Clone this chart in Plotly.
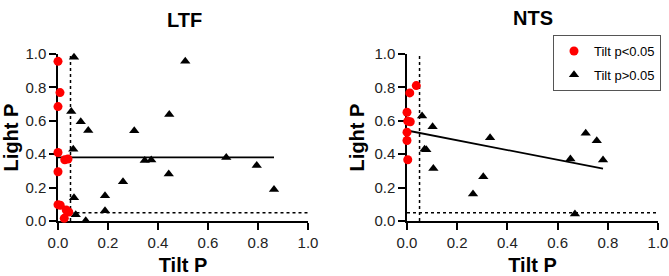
import plotly.graph_objects as go

# ---- data ----
ltf_sig_x = [0.0, 0.008, 0.0, 0.0, 0.027, 0.04, 0.0, 0.0, 0.009, 0.033, 0.043, 0.025]
ltf_sig_y = [0.956, 0.769, 0.685, 0.41, 0.367, 0.371, 0.295, 0.098, 0.094, 0.066, 0.054, 0.016]
ltf_ns_x = [0.064, 0.053, 0.091, 0.121, 0.061, 0.064, 0.071, 0.111, 0.188, 0.188, 0.26,
            0.305, 0.347, 0.373, 0.509, 0.445, 0.443, 0.673, 0.795, 0.864]
ltf_ns_y = [0.98, 0.655, 0.594, 0.542, 0.43, 0.139, 0.038, 0.002, 0.151, 0.062, 0.235,
            0.54, 0.363, 0.365, 0.956, 0.637, 0.281, 0.38, 0.333, 0.189]
ltf_fit_x = [0.0, 0.864]
ltf_fit_y = [0.381, 0.381]

nts_sig_x = [0.037, 0.011, 0.0, 0.003, 0.013, 0.0, 0.0, 0.003]
nts_sig_y = [0.811, 0.767, 0.651, 0.598, 0.594, 0.532, 0.482, 0.367]
nts_ns_x = [0.06, 0.07, 0.077, 0.102, 0.105, 0.263, 0.304, 0.331, 0.651, 0.669, 0.712, 0.756, 0.781]
nts_ns_y = [0.628, 0.43, 0.426, 0.564, 0.315, 0.161, 0.265, 0.498, 0.371, 0.042, 0.526, 0.48, 0.365]
nts_fit_x = [0.0, 0.781]
nts_fit_y = [0.542, 0.313]

threshold = 0.05
ltf_hline_x = [threshold, 1.0]
nts_hline_x = [0.0, 1.0]
vline_y = [0.0, 1.0]

ticks = [0.0, 0.2, 0.4, 0.6, 0.8, 1.0]
tick_text = ["0.0", "0.2", "0.4", "0.6", "0.8", "1.0"]

RED = "#ff0000"
BLACK = "#000000"
FONT = "Liberation Sans, Arial"

fig = go.Figure()


def add_panel(xa, ya, sx, sy, nx, ny, fx, fy, hx, show_legend):
    fig.add_trace(go.Scatter(x=[threshold, threshold], y=vline_y, mode="lines",
                             line=dict(color=BLACK, width=1.5, dash="dot"),
                             xaxis=xa, yaxis=ya, showlegend=False, hoverinfo="skip"))
    fig.add_trace(go.Scatter(x=hx, y=[threshold, threshold], mode="lines",
                             line=dict(color=BLACK, width=1.5, dash="dot"),
                             xaxis=xa, yaxis=ya, showlegend=False, hoverinfo="skip"))
    fig.add_trace(go.Scatter(x=fx, y=fy, mode="lines",
                             line=dict(color=BLACK, width=1.8),
                             xaxis=xa, yaxis=ya, showlegend=False, hoverinfo="skip"))
    fig.add_trace(go.Scatter(x=nx, y=ny, mode="markers", name="Tilt p>0.05",
                             marker=dict(symbol="triangle-up", size=9, color=BLACK),
                             xaxis=xa, yaxis=ya, showlegend=show_legend, legendrank=2,
                             legendgroup="ns", cliponaxis=False))
    fig.add_trace(go.Scatter(x=sx, y=sy, mode="markers", name="Tilt p<0.05",
                             marker=dict(symbol="circle", size=9, color=RED),
                             xaxis=xa, yaxis=ya, showlegend=show_legend, legendrank=1,
                             legendgroup="sig", cliponaxis=False))


add_panel("x", "y", ltf_sig_x, ltf_sig_y, ltf_ns_x, ltf_ns_y, ltf_fit_x, ltf_fit_y, ltf_hline_x, False)
add_panel("x2", "y2", nts_sig_x, nts_sig_y, nts_ns_x, nts_ns_y, nts_fit_x, nts_fit_y, nts_hline_x, True)

W, H = 669, 276
ydom = [(H - 221) / H, (H - 54) / H]

axis_common = dict(range=[0, 1], tickvals=ticks, ticktext=tick_text, showgrid=False,
                   zeroline=False, showline=True, linecolor=BLACK, linewidth=1.5,
                   ticks="outside", ticklen=7, tickwidth=1.5, tickcolor=BLACK,
                   tickfont=dict(family=FONT, size=15, color="#222"),
                   layer="below traces", fixedrange=True, automargin=False)
title_font = dict(family=FONT, size=20, color=BLACK, weight="bold")

fig.update_layout(
    width=W, height=H,
    margin=dict(l=0, r=0, t=0, b=0),
    paper_bgcolor="white", plot_bgcolor="white",
    xaxis=dict(domain=[58 / W, 308 / W], anchor="y",
               title=dict(text="Tilt P", font=title_font, standoff=8), **axis_common),
    yaxis=dict(domain=ydom, anchor="x",
               title=dict(text="Light P", font=title_font, standoff=4), **axis_common),
    xaxis2=dict(domain=[407 / W, 658 / W], anchor="y2",
                title=dict(text="Tilt P", font=title_font, standoff=8), **axis_common),
    yaxis2=dict(domain=ydom, anchor="x2",
                title=dict(text="Light P", font=title_font, standoff=4), **axis_common),
    legend=dict(x=553 / W, y=1 - 35 / H, xanchor="left", yanchor="top",
                bordercolor="#555", borderwidth=1, bgcolor="white",
                font=dict(family=FONT, size=13, color=BLACK),
                itemwidth=30, tracegroupgap=4),
    annotations=[
        dict(text="<b>LTF</b>", x=184.5 / W, y=1 - 20 / H, xref="paper", yref="paper",
             xanchor="center", yanchor="middle", showarrow=False,
             font=dict(family=FONT, size=20, color=BLACK)),
        dict(text="<b>NTS</b>", x=533 / W, y=1 - 18 / H, xref="paper", yref="paper",
             xanchor="center", yanchor="middle", showarrow=False,
             font=dict(family=FONT, size=20, color=BLACK)),
    ],
    showlegend=True,
)

fig.write_html("out.html", config={"displayModeBar": False},
               post_script="document.body.style.margin='0';document.body.style.padding='0';")
